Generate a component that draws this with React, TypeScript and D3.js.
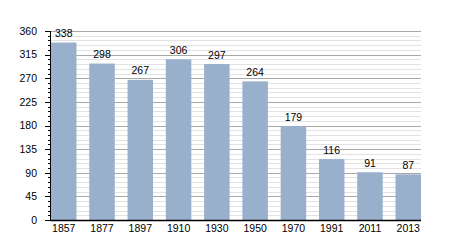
import React from "react";
import * as d3 from "d3";

const years = ["1857", "1877", "1897", "1910", "1930", "1950", "1970", "1991", "2011", "2013"];
const population = [338, 298, 267, 306, 297, 264, 179, 116, 91, 87];
const yTicks = [0, 45, 90, 135, 180, 225, 270, 315, 360];

export default function App() {
  const W = 450, H = 250;
  const left = 50, right = 421, top = 31, bottom = 220;
  const x = d3.scaleBand<string>().domain(years).range([left + 1, right]).paddingInner(0.334).paddingOuter(0);
  const y = d3.scaleLinear().domain([0, 360]).range([bottom, top]);
  const minor = d3.range(0, 361, 9);
  const font = "'Liberation Sans', Arial, sans-serif";
  return (
    <svg width={W} height={H} style={{ position: "absolute", left: 0, top: 0 }} fontFamily={font}>
      <rect width={W} height={H} fill="#fff" />
      {minor.filter(v => v % 45 !== 0).map(v => (
        <line key={"m" + v} x1={left} x2={right} y1={Math.round(y(v)) + 0.5} y2={Math.round(y(v)) + 0.5} stroke="#e2e2e2" strokeWidth={1} />
      ))}
      {yTicks.filter(v => v !== 0).map(v => (
        <line key={"g" + v} x1={left} x2={right} y1={Math.round(y(v)) + 0.5} y2={Math.round(y(v)) + 0.5} stroke="#a8a8a8" strokeWidth={1} />
      ))}
      {years.map((yr, i) => (
        <rect key={yr} x={x(yr)} y={y(population[i])} width={x.bandwidth()} height={bottom - y(population[i])} fill="#98b0cb" />
      ))}
      {years.map((yr, i) => (
        <text key={"v" + yr} x={(x(yr) as number) + x.bandwidth() / 2} y={y(population[i]) - 5.5} textAnchor="middle" fontSize={10.5} fill="#000">
          {population[i]}
        </text>
      ))}
      {minor.map(v => (
        <line key={"mt" + v} x1={v % 45 === 0 ? left - 5 : left - 2} x2={left} y1={Math.round(y(v)) + 0.5} y2={Math.round(y(v)) + 0.5} stroke="#000" strokeWidth={1} />
      ))}
      <line x1={left + 0.5} x2={left + 0.5} y1={top} y2={bottom + 1} stroke="#000" strokeWidth={1} />
      <line x1={left} x2={right} y1={bottom + 0.5} y2={bottom + 0.5} stroke="#000" strokeWidth={1.5} />
      {yTicks.map(v => (
        <text key={"yl" + v} x={37} y={y(v) + 3.8} textAnchor="end" fontSize={10.5} fill="#000">{v}</text>
      ))}
      {years.map(yr => (
        <text key={"xl" + yr} x={(x(yr) as number) + x.bandwidth() / 2} y={232} textAnchor="middle" fontSize={10.5} fill="#000">{yr}</text>
      ))}
    </svg>
  );
}
